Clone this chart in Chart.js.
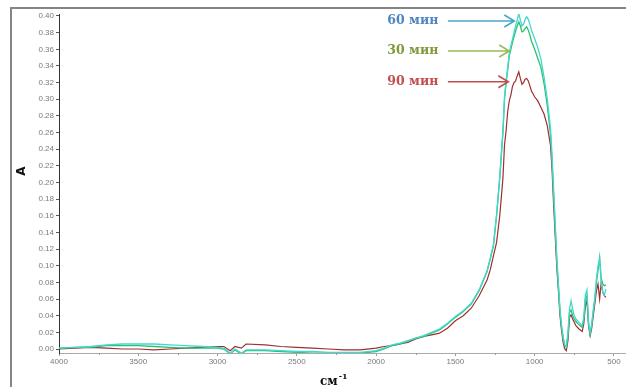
<!DOCTYPE html>
<html>
<head>
<meta charset="utf-8">
<script src="https://cdn.jsdelivr.net/npm/chart.js@4.4.0/dist/chart.umd.min.js"></script>
<style>
  html, body { margin: 0; padding: 0; background: #fff; }
  #wrap { width: 626px; height: 387px; }
</style>
</head>
<body>
<div id="wrap"><canvas id="ftir-chart" width="626" height="387"></canvas></div>
<script>
// IR spectra, absorbance vs wavenumber (cm-1)
const wavenumbers = [
  4000, 3900, 3800, 3700, 3600, 3500, 3400, 3300, 3200, 3100,
  3000, 2960, 2920, 2890, 2850, 2820, 2700, 2600, 2500, 2400,
  2300, 2200, 2100, 2000, 1950, 1900, 1850, 1800, 1750, 1700,
  1650, 1600, 1550, 1500, 1450, 1400, 1350, 1300, 1280, 1260,
  1240, 1220, 1200, 1190, 1180, 1170, 1160, 1150, 1140, 1130,
  1120, 1110, 1100, 1090, 1080, 1070, 1060, 1050, 1040, 1030,
  1020, 1000, 980, 960, 940, 920, 900, 890, 880, 870,
  860, 850, 840, 830, 820, 810, 800, 790, 780, 770,
  760, 750, 740, 720, 700, 690, 680, 670, 660, 650,
  640, 630, 620, 610, 600, 590, 580, 570, 560, 550
];

const abs60 = [
  0.001, 0.002, 0.003, 0.005, 0.006, 0.006, 0.006, 0.005, 0.004, 0.003,
  0.002, 0.001, -0.005, 0.000, -0.005, -0.001, -0.001, -0.002, -0.003, -0.003,
  -0.004, -0.004, -0.004, -0.002, 0.001, 0.005, 0.007, 0.010, 0.013, 0.016,
  0.020, 0.024, 0.031, 0.039, 0.046, 0.055, 0.071, 0.094, 0.109, 0.125,
  0.161, 0.207, 0.262, 0.302, 0.322, 0.338, 0.355, 0.364, 0.372, 0.380,
  0.388, 0.395, 0.403, 0.395, 0.388, 0.390, 0.396, 0.399, 0.396, 0.390,
  0.383, 0.373, 0.362, 0.348, 0.326, 0.300, 0.265, 0.232, 0.190, 0.150,
  0.110, 0.078, 0.048, 0.028, 0.014, 0.005, 0.003, 0.020, 0.048, 0.058,
  0.048, 0.040, 0.036, 0.032, 0.028, 0.038, 0.065, 0.071, 0.032, 0.020,
  0.030, 0.047, 0.062, 0.085, 0.100, 0.108, 0.079, 0.068, 0.065, 0.072
];

const abs30 = [
  0.001, 0.002, 0.002, 0.004, 0.004, 0.004, 0.003, 0.002, 0.001, 0.001,
  0.001, 0.000, -0.006, -0.001, -0.006, -0.002, -0.002, -0.003, -0.004, -0.005,
  -0.005, -0.005, -0.005, -0.003, 0.000, 0.004, 0.006, 0.009, 0.013, 0.015,
  0.019, 0.023, 0.030, 0.038, 0.045, 0.054, 0.070, 0.093, 0.108, 0.124,
  0.160, 0.205, 0.260, 0.300, 0.320, 0.335, 0.352, 0.360, 0.368, 0.375,
  0.382, 0.388, 0.393, 0.388, 0.381, 0.382, 0.385, 0.387, 0.383, 0.377,
  0.370, 0.360, 0.349, 0.338, 0.318, 0.292, 0.258, 0.225, 0.185, 0.145,
  0.105, 0.075, 0.045, 0.026, 0.013, 0.004, 0.002, 0.015, 0.044, 0.047,
  0.040, 0.036, 0.033, 0.029, 0.026, 0.035, 0.060, 0.064, 0.030, 0.018,
  0.028, 0.045, 0.060, 0.080, 0.095, 0.110, 0.085, 0.078, 0.076, 0.077
];

const abs90 = [
  0.000, 0.001, 0.002, 0.001, 0.000, 0.000, -0.001, 0.000, 0.001, 0.002,
  0.003, 0.003, -0.002, 0.003, 0.001, 0.006, 0.005, 0.003, 0.002, 0.001,
  0.000, -0.001, -0.001, 0.001, 0.003, 0.004, 0.006, 0.008, 0.012, 0.015,
  0.017, 0.019, 0.025, 0.034, 0.040, 0.049, 0.064, 0.083, 0.095, 0.112,
  0.128, 0.160, 0.205, 0.245, 0.262, 0.285, 0.298, 0.305, 0.315, 0.320,
  0.322, 0.328, 0.333, 0.325, 0.318, 0.320, 0.324, 0.325, 0.322, 0.316,
  0.310, 0.303, 0.298, 0.290, 0.282, 0.268, 0.245, 0.215, 0.172, 0.135,
  0.098, 0.070, 0.040, 0.022, 0.008, 0.000, -0.002, 0.010, 0.038, 0.041,
  0.036, 0.032, 0.028, 0.024, 0.021, 0.030, 0.052, 0.058, 0.028, 0.016,
  0.025, 0.040, 0.055, 0.070, 0.078, 0.060, 0.080, 0.068, 0.064, 0.062
];

const seriesNames = ['60 мин', '30 мин', '90 мин'];
const xTickValues = [4000, 3500, 3000, 2500, 2000, 1500, 1000, 500];
const yTickValues = [0, 0.02, 0.04, 0.06, 0.08, 0.10, 0.12, 0.14, 0.16, 0.18, 0.20,
  0.22, 0.24, 0.26, 0.28, 0.30, 0.32, 0.34, 0.36, 0.38, 0.40];

// label text position and arrow tip, in data units (wavenumber, absorbance)
const labelAnchors = [
  { text: seriesNames[0], color: '#4f86c0', arrow: '#45a8c8', x: 1768, y: 0.394, tipX: 1128 },
  { text: seriesNames[1], color: '#7f9a3a', arrow: '#9bbb59', x: 1768, y: 0.358, tipX: 1160 },
  { text: seriesNames[2], color: '#c0504d', arrow: '#c0504d', x: 1768, y: 0.321, tipX: 1166 }
];

function toPoints(values) {
  return values.map((v, i) => ({ x: wavenumbers[i], y: v }));
}

const decorPlugin = {
  id: 'decor',
  beforeDraw(chart) {
    const c = chart.ctx;
    c.save();
    c.fillStyle = '#fff';
    c.fillRect(0, 0, chart.width, chart.height);
    // outer frame (top and left)
    c.strokeStyle = '#858585';
    c.lineWidth = 2;
    c.beginPath();
    c.moveTo(11, chart.height);
    c.lineTo(11, 8);
    c.lineTo(chart.width, 8);
    c.stroke();
    c.restore();
  },
  afterDraw(chart) {
    const c = chart.ctx;
    const xs = chart.scales.x;
    const ys = chart.scales.y;
    const bottom = chart.chartArea.bottom;
    c.save();

    // minor ticks on the wavenumber axis
    c.strokeStyle = '#999';
    c.lineWidth = 1;
    for (let w = 750; w < 4000; w += 500) {
      const px = Math.round(xs.getPixelForValue(w)) + 0.5;
      c.beginPath();
      c.moveTo(px, bottom);
      c.lineTo(px, bottom + 2);
      c.stroke();
    }

    // axis titles
    c.fillStyle = '#111';
    c.font = 'bold 12px "DejaVu Sans"';
    c.textAlign = 'center';
    c.textBaseline = 'middle';
    c.save();
    c.translate(22, 171);
    c.rotate(-Math.PI / 2);
    c.fillText('A', 0, 0);
    c.restore();

    c.font = 'bold 12px "DejaVu Serif"';
    c.textAlign = 'left';
    c.textBaseline = 'alphabetic';
    c.fillText('см', 320, 385);
    const w1 = c.measureText('см').width;
    c.font = 'bold 8px "DejaVu Serif"';
    c.fillText('-1', 320 + w1 + 1, 379);

    // series labels with arrows
    labelAnchors.forEach(a => {
      const tx = xs.getPixelForValue(a.x);
      const ty = ys.getPixelForValue(a.y);
      c.font = 'bold 12.5px "DejaVu Serif"';
      c.fillStyle = a.color;
      c.textAlign = 'center';
      c.textBaseline = 'middle';
      c.fillText(a.text, tx, ty);

      const x0 = tx + 35;
      const x1 = xs.getPixelForValue(a.tipX);
      c.strokeStyle = a.arrow;
      c.lineWidth = 1.6;
      c.beginPath();
      c.moveTo(x0, ty);
      c.lineTo(x1, ty);
      c.moveTo(x1 - 10, ty - 6);
      c.lineTo(x1, ty);
      c.lineTo(x1 - 10, ty + 6);
      c.stroke();
    });
    c.restore();
  }
};

const chart = new Chart(document.getElementById('ftir-chart'), {
  type: 'line',
  data: {
    datasets: [
      { label: seriesNames[0], data: toPoints(abs60), borderColor: '#40d8cf', borderWidth: 1.3 },
      { label: seriesNames[1], data: toPoints(abs30), borderColor: '#2fbf6f', borderWidth: 1.3 },
      { label: seriesNames[2], data: toPoints(abs90), borderColor: '#9e2f2f', borderWidth: 1.2 }
    ]
  },
  options: {
    responsive: false,
    animation: false,
    devicePixelRatio: 1,
    layout: { padding: { left: 0, right: 1, top: 14, bottom: 0 } },
    elements: {
      point: { radius: 0 },
      line: { tension: 0, fill: false }
    },
    plugins: {
      legend: { display: false },
      tooltip: { enabled: false }
    },
    scales: {
      x: {
        type: 'linear',
        reverse: true,
        min: 430,
        max: 4000,
        afterBuildTicks: s => { s.ticks = xTickValues.map(v => ({ value: v })); },
        afterFit: s => { s.height = 34; },
        ticks: {
          autoSkip: false,
          maxRotation: 0,
          padding: 1,
          color: '#7a7a7a',
          font: { family: 'Liberation Sans', size: 8 },
          callback: v => String(v)
        },
        grid: { drawOnChartArea: false, tickLength: 3, color: '#999' },
        border: { color: '#aaa', width: 1 }
      },
      y: {
        type: 'linear',
        min: -0.0048,
        max: 0.4024,
        afterBuildTicks: s => { s.ticks = yTickValues.map(v => ({ value: v })); },
        afterFit: s => { s.width = 59; },
        ticks: {
          padding: 2,
          color: '#7a7a7a',
          font: { family: 'Liberation Sans', size: 8 },
          callback: v => v.toFixed(2)
        },
        grid: { drawOnChartArea: false, tickLength: 3, color: '#555' },
        border: { color: '#333', width: 1, dash: [1, 1] }
      }
    }
  },
  plugins: [decorPlugin]
});
</script>
</body>
</html>
